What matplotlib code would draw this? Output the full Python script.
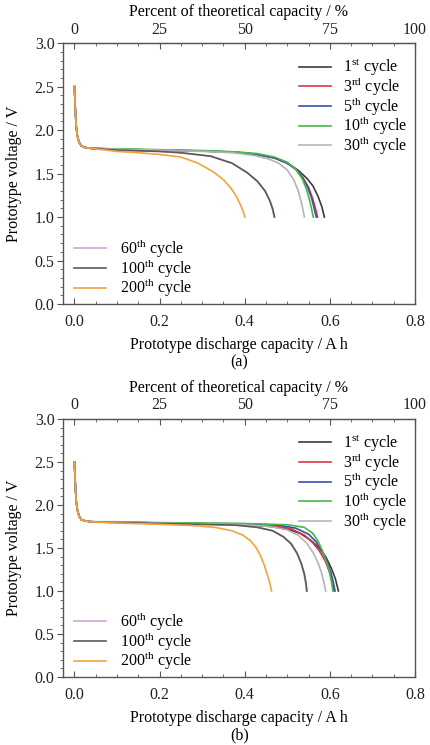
import matplotlib
matplotlib.use('Agg')
import matplotlib.pyplot as plt

plt.rcParams['font.family'] = ['Liberation Serif', 'DejaVu Serif']
plt.rcParams['mathtext.fontset'] = 'custom'
plt.rcParams['mathtext.rm'] = 'Liberation Serif'
plt.rcParams['font.size'] = 11.5

# 各循环的标签与颜色
cycle_labels = ['1$^{\\mathrm{st}}$ cycle', '3$^{\\mathrm{rd}}$ cycle', '5$^{\\mathrm{th}}$ cycle',
                '10$^{\\mathrm{th}}$ cycle', '30$^{\\mathrm{th}}$ cycle', '60$^{\\mathrm{th}}$ cycle',
                '100$^{\\mathrm{th}}$ cycle', '200$^{\\mathrm{th}}$ cycle']
cycle_colors = ['#3c3c3c', '#e0333d', '#3553a8', '#45b845', '#b4b4b4', '#d9a3d6', '#5a5a5a', '#f5a33a']

# 放电开始时的电压骤降 (A h, V)
head_cap = [0.0, 0.002, 0.004, 0.007, 0.011, 0.016, 0.025, 0.04]
head_v_a = [2.5, 2.25, 2.05, 1.93, 1.86, 1.82, 1.80, 1.79]
head_v_b = [2.5, 2.25, 2.05, 1.94, 1.87, 1.83, 1.815, 1.805]

# (a) 各循环放电曲线
a_cap_1 = [0.1, 0.2, 0.3, 0.38, 0.43, 0.47, 0.50, 0.525, 0.545, 0.56, 0.572, 0.581, 0.587]
a_v_1 = [1.78, 1.77, 1.76, 1.745, 1.72, 1.68, 1.62, 1.54, 1.45, 1.36, 1.24, 1.12, 1.0]
a_cap_3 = [0.1, 0.2, 0.3, 0.38, 0.43, 0.47, 0.50, 0.52, 0.537, 0.55, 0.559, 0.566, 0.571]
a_v_3 = [1.78, 1.77, 1.76, 1.745, 1.72, 1.68, 1.62, 1.55, 1.45, 1.34, 1.22, 1.10, 1.0]
a_cap_5 = [0.1, 0.2, 0.3, 0.38, 0.43, 0.47, 0.50, 0.52, 0.536, 0.548, 0.557, 0.563, 0.568]
a_v_5 = [1.78, 1.77, 1.76, 1.745, 1.72, 1.68, 1.62, 1.55, 1.45, 1.34, 1.22, 1.10, 1.0]
a_cap_10 = [0.1, 0.2, 0.3, 0.38, 0.43, 0.47, 0.50, 0.52, 0.535, 0.545, 0.552, 0.557, 0.561]
a_v_10 = [1.785, 1.775, 1.765, 1.75, 1.73, 1.69, 1.63, 1.55, 1.44, 1.32, 1.20, 1.09, 1.0]
a_cap_30 = [0.1, 0.2, 0.3, 0.37, 0.42, 0.455, 0.48, 0.50, 0.515, 0.525, 0.532, 0.537, 0.54]
a_v_30 = [1.78, 1.77, 1.755, 1.74, 1.71, 1.67, 1.62, 1.54, 1.43, 1.31, 1.19, 1.08, 1.0]
a_cap_60 = [0.1, 0.2, 0.25, 0.32, 0.37, 0.406, 0.43, 0.447, 0.458, 0.465, 0.469]
a_v_60 = [1.77, 1.755, 1.74, 1.70, 1.62, 1.51, 1.41, 1.30, 1.19, 1.09, 1.0]
a_cap_100 = [0.1, 0.2, 0.25, 0.32, 0.37, 0.406, 0.43, 0.448, 0.459, 0.466, 0.47]
a_v_100 = [1.77, 1.755, 1.74, 1.70, 1.62, 1.51, 1.41, 1.30, 1.19, 1.09, 1.0]
a_cap_200 = [0.1, 0.15, 0.2, 0.25, 0.29, 0.326, 0.35, 0.368, 0.38, 0.39, 0.396, 0.4]
a_v_200 = [1.755, 1.74, 1.72, 1.69, 1.62, 1.52, 1.43, 1.33, 1.24, 1.14, 1.07, 1.0]

# (b) 各循环放电曲线
b_cap_1 = [0.1, 0.2, 0.3, 0.4, 0.46, 0.5, 0.53, 0.555, 0.575, 0.59, 0.603, 0.613, 0.62]
b_v_1 = [1.80, 1.79, 1.78, 1.77, 1.75, 1.72, 1.67, 1.59, 1.50, 1.40, 1.27, 1.14, 1.0]
b_cap_3 = [0.1, 0.2, 0.3, 0.4, 0.47, 0.51, 0.54, 0.56, 0.576, 0.589, 0.599, 0.606, 0.61]
b_v_3 = [1.80, 1.79, 1.78, 1.775, 1.76, 1.72, 1.65, 1.56, 1.46, 1.35, 1.22, 1.10, 1.0]
b_cap_5 = [0.1, 0.2, 0.3, 0.4, 0.48, 0.52, 0.55, 0.568, 0.582, 0.593, 0.602, 0.608, 0.612]
b_v_5 = [1.80, 1.79, 1.785, 1.78, 1.765, 1.73, 1.66, 1.57, 1.46, 1.34, 1.22, 1.10, 1.0]
b_cap_10 = [0.1, 0.2, 0.3, 0.4, 0.5, 0.54, 0.56, 0.573, 0.583, 0.592, 0.599, 0.604, 0.607]
b_v_10 = [1.805, 1.795, 1.79, 1.785, 1.77, 1.74, 1.67, 1.57, 1.46, 1.34, 1.22, 1.10, 1.0]
b_cap_30 = [0.1, 0.2, 0.3, 0.4, 0.46, 0.5, 0.525, 0.545, 0.56, 0.571, 0.58, 0.586, 0.59]
b_v_30 = [1.80, 1.79, 1.78, 1.77, 1.75, 1.71, 1.65, 1.56, 1.45, 1.34, 1.22, 1.10, 1.0]
b_cap_60 = [0.1, 0.2, 0.3, 0.38, 0.43, 0.465, 0.49, 0.508, 0.522, 0.532, 0.539, 0.543, 0.545]
b_v_60 = [1.795, 1.785, 1.775, 1.765, 1.74, 1.70, 1.63, 1.55, 1.44, 1.32, 1.20, 1.09, 1.0]
b_cap_100 = [0.1, 0.2, 0.3, 0.38, 0.43, 0.466, 0.491, 0.509, 0.523, 0.533, 0.54, 0.544, 0.546]
b_v_100 = [1.795, 1.785, 1.775, 1.765, 1.74, 1.70, 1.63, 1.55, 1.44, 1.32, 1.20, 1.09, 1.0]
b_cap_200 = [0.1, 0.2, 0.28, 0.33, 0.37, 0.395, 0.412, 0.426, 0.437, 0.446, 0.453, 0.459, 0.463]
b_v_200 = [1.79, 1.775, 1.76, 1.74, 1.70, 1.65, 1.59, 1.51, 1.41, 1.30, 1.19, 1.09, 1.0]

panel_a = [(a_cap_1, a_v_1), (a_cap_3, a_v_3), (a_cap_5, a_v_5), (a_cap_10, a_v_10),
           (a_cap_30, a_v_30), (a_cap_60, a_v_60), (a_cap_100, a_v_100), (a_cap_200, a_v_200)]
panel_b = [(b_cap_1, b_v_1), (b_cap_3, b_v_3), (b_cap_5, b_v_5), (b_cap_10, b_v_10),
           (b_cap_30, b_v_30), (b_cap_60, b_v_60), (b_cap_100, b_v_100), (b_cap_200, b_v_200)]

full_capacity = 0.8  # 理论容量 A h
spine_color = '#555555'


def draw_panel(ax, curves, head_v):
    lines = []
    for (cap, v), label, color in zip(curves, cycle_labels, cycle_colors):
        ln, = ax.plot(head_cap + cap, head_v + v, color=color, lw=1.2, label=label)
        lines.append(ln)

    ax.set_xlim(-0.027, 0.8)
    ax.set_ylim(0, 3.0)
    ax.set_xticks([0, 0.2, 0.4, 0.6, 0.8])
    ax.set_xticks([0.05 * i for i in range(17)], minor=True)
    ax.set_yticks([0, 0.5, 1.0, 1.5, 2.0, 2.5, 3.0])
    ax.set_yticks([0.1 * i for i in range(31)], minor=True)
    ax.set_xticklabels(['0.0', '0.2', '0.4', '0.6', '0.8'])
    ax.tick_params(axis='x', which='both', direction='in', colors=spine_color,
                   labelcolor='#222222', pad=7)
    ax.tick_params(axis='x', which='major', length=4)
    ax.tick_params(axis='x', which='minor', length=2.5)
    ax.tick_params(axis='y', which='both', direction='out', colors=spine_color,
                   labelcolor='#222222', pad=2)
    ax.tick_params(axis='y', which='major', length=4)
    ax.tick_params(axis='y', which='minor', length=2.5)
    for s in ax.spines.values():
        s.set_color(spine_color)
        s.set_linewidth(1.0)
    ax.set_xlabel('Prototype discharge capacity / A h', labelpad=5)
    ax.set_ylabel('Prototype voltage / V', labelpad=9)

    top = ax.secondary_xaxis('top', functions=(lambda x: x / full_capacity * 100,
                                               lambda p: p * full_capacity / 100))
    top.set_xticks([0, 25, 50, 75, 100])
    top.set_xticks([6.25 * i for i in range(17)], minor=True)
    top.tick_params(which='both', direction='in', colors=spine_color, labelcolor='#222222', pad=4)
    top.tick_params(which='major', length=4)
    top.tick_params(which='minor', length=2.5)
    top.spines['top'].set_color(spine_color)
    top.set_xlabel('Percent of theoretical capacity / %', labelpad=4)

    leg1 = ax.legend(handles=lines[:5], loc='upper right', bbox_to_anchor=(1.01, 0.99),
                     frameon=False, handlelength=2.0, handletextpad=0.75, labelspacing=-0.19,
                     borderaxespad=0.3)
    ax.add_artist(leg1)
    ax.legend(handles=lines[5:], loc='lower left', bbox_to_anchor=(0.0, -0.025),
              frameon=False, handlelength=2.0, handletextpad=0.9, labelspacing=-0.19,
              borderaxespad=0.3)


fig = plt.figure(figsize=(4.31, 7.45), dpi=100)
ax_a = fig.add_axes([0.146, 0.592, 0.817, 0.350])
ax_b = fig.add_axes([0.146, 0.0913, 0.817, 0.3463])

draw_panel(ax_a, panel_a, head_v_a)
draw_panel(ax_b, panel_b, head_v_b)

fig.text(0.555, 0.514, '(a)', ha='center', va='center')
fig.text(0.555, 0.0125, '(b)', ha='center', va='center')

fig.savefig('out.png', dpi=100)
